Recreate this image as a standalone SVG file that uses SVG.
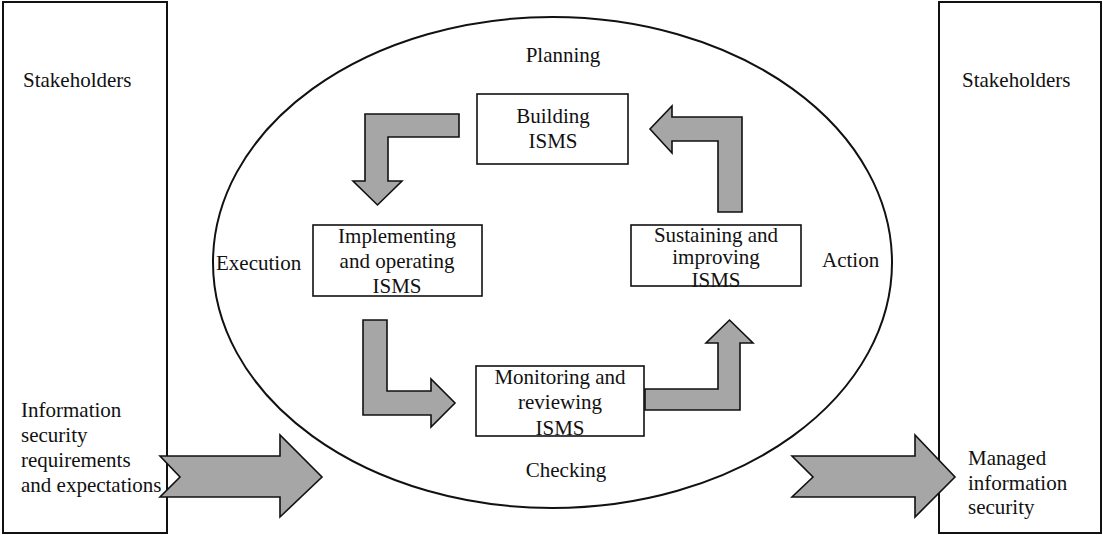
<svg xmlns="http://www.w3.org/2000/svg" width="1103" height="535" viewBox="0 0 1103 535">
<defs>
<style type="text/css">
text{font-family:'Liberation Serif','Times New Roman',Times,serif;font-size:21px;fill:#111}
.c{text-anchor:middle}
.outer{fill:#fff;stroke:#111;stroke-width:2}
.box{fill:#fff;stroke:#111;stroke-width:1.6}
.arr{fill:#a6a6a6;stroke:#111;stroke-width:1.6;stroke-linejoin:miter}
</style>
</defs>
<rect width="1103" height="535" fill="#fff"/>
<g id="stakeholders-left">
<rect class="outer" x="3" y="2" width="164" height="531"/>
<text x="23" y="87" font-family="Times New Roman, serif">Stakeholders</text>
<text x="21" y="417">Information</text>
<text x="21" y="442">security</text>
<text x="21" y="467">requirements</text>
<text x="21" y="492">and expectations</text>
</g>
<g id="stakeholders-right">
<rect class="outer" x="939" y="2" width="162" height="531"/>
<text x="962" y="87">Stakeholders</text>
<text x="968" y="465">Managed</text>
<text x="968" y="490">information</text>
<text x="968" y="514">security</text>
</g>
<g id="cycle">
<ellipse cx="552.5" cy="262.5" rx="339.5" ry="245.5" fill="#fff" stroke="#111" stroke-width="2"/>
<text class="c" x="563" y="62">Planning</text>
<text x="216" y="270">Execution</text>
<text x="822" y="267">Action</text>
<text class="c" x="566" y="477">Checking</text>
</g>
<g id="building">
<rect class="box" x="477" y="94" width="151" height="70"/>
<text class="c" x="553" y="123">Building</text>
<text class="c" x="553" y="148">ISMS</text>
</g>
<g id="implementing">
<rect class="box" x="313" y="225" width="169" height="71"/>
<text class="c" x="397" y="243">Implementing</text>
<text class="c" x="397" y="268">and operating</text>
<text class="c" x="397" y="293">ISMS</text>
</g>
<g id="monitoring">
<rect class="box" x="476" y="366" width="168" height="70"/>
<text class="c" x="560" y="384">Monitoring and</text>
<text class="c" x="560" y="409">reviewing</text>
<text class="c" x="560" y="435">ISMS</text>
</g>
<g id="sustaining">
<rect class="box" x="631" y="225" width="170" height="61"/>
<text class="c" x="716" y="242">Sustaining and</text>
<text class="c" x="716" y="264">improving</text>
<text class="c" x="716" y="287">ISMS</text>
</g>
<g id="connectors">
<path class="arr" d="M459,114 L365,114 L365,181 L353,181 L377.5,205 L402,181 L388,181 L388,137 L459,137 Z"/>
<path class="arr" d="M363,320 L387,320 L387,391 L431,391 L431,379 L455,403 L431,427 L431,415 L363,415 Z"/>
<path class="arr" d="M645,389 L718,389 L718,343 L706,343 L729.5,320 L753,343 L740,343 L740,410 L645,410 Z"/>
<path class="arr" d="M718,212 L742,212 L742,117 L672,117 L672,106 L650,129 L672,153 L672,141 L718,141 Z"/>
<path class="arr" d="M160,456 L280,456 L280,435 L322,477 L280,517 L280,497 L160,497 L180,477 Z"/>
<path class="arr" d="M792,456 L915,456 L915,435 L955,477 L915,517 L915,497 L792,497 L813,477 Z"/>
</g>
</svg>
